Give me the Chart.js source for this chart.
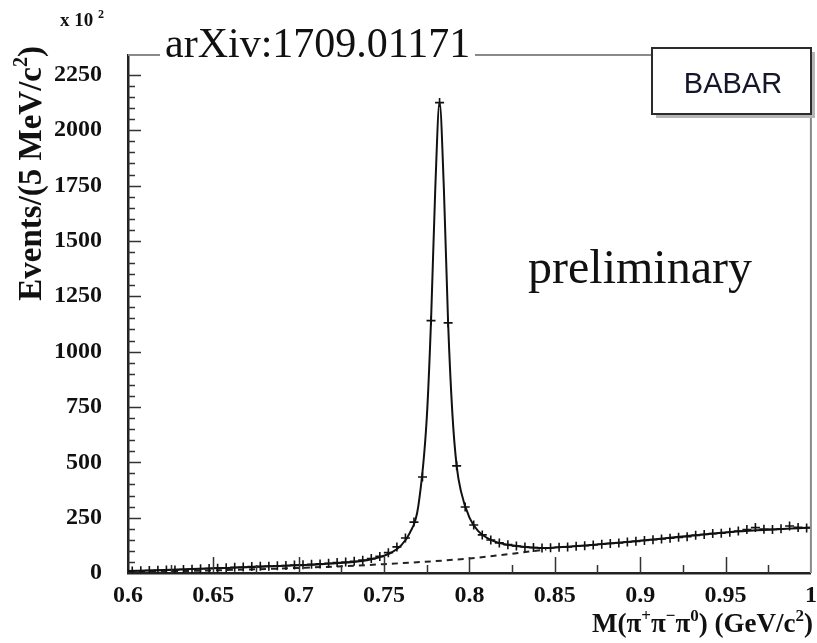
<!DOCTYPE html>
<html>
<head>
<meta charset="utf-8">
<script src="https://cdn.jsdelivr.net/npm/chart.js@4.4.1/dist/chart.umd.min.js"></script>
<style>
  body { margin: 0; background: #fff; }
  #wrap { width: 817px; height: 643px; }
</style>
</head>
<body>
<div id="wrap"><canvas id="myChart" width="817" height="643"></canvas></div>
<script>
// binned data, 5 MeV bins from 0.6 to 1.0 GeV
const binLow = 0.6;
const binWidth = 0.005;
const counts = [
  9, 10, 11, 12, 13, 14, 16, 17, 19, 20,
  22, 24, 26, 27, 29, 30, 31, 33, 34, 36,
  37, 39, 41, 44, 47, 50, 53, 58, 65, 75,
  92, 118, 158, 230, 434, 1140, 2125, 1130, 484, 298,
  217, 172, 149, 136, 128, 122, 118, 115, 113, 114,
  116, 118, 121, 123, 127, 130, 133, 136, 140, 143,
  147, 150, 154, 157, 161, 164, 170, 174, 178, 180,
  184, 190, 196, 205, 198, 197, 200, 212, 206, 203
];

// fitted curve (solid)
const fitX = [0.6, 0.65, 0.7, 0.72, 0.74, 0.75, 0.755, 0.76, 0.765, 0.77, 0.775, 0.7775, 0.78, 0.7825,
  0.785, 0.7875, 0.79, 0.7925, 0.795, 0.8, 0.805, 0.81, 0.815, 0.82, 0.83, 0.845, 0.85, 0.9, 0.95, 1.0];
const fitY = [9, 21, 35, 43, 58, 78, 95, 125, 180, 300, 700, 1140, 1740, 2125,
  1740, 1130, 720, 484, 370, 250, 190, 160, 142, 131, 120, 113, 115, 146, 183, 205];

// background (dashed)
const bkgX = [0.6, 0.65, 0.7, 0.75, 0.8, 0.845];
const bkgY = [4, 12, 23, 40, 66, 106];

const xTickLabels = ['0.6', '0.65', '0.7', '0.75', '0.8', '0.85', '0.9', '0.95', '1'];
const yTickLabels = ['0', '250', '500', '750', '1000', '1250', '1500', '1750', '2000', '2250'];

const dataPts = counts.map(function (c, i) { return { x: binLow + (i + 0.5) * binWidth, y: c }; });
const fitPts = fitX.map(function (x, i) { return { x: x, y: fitY[i] }; });
const bkgPts = bkgX.map(function (x, i) { return { x: x, y: bkgY[i] }; });

const serif = '"Liberation Serif", "Times New Roman", serif';

// draw text with superscript pieces
function richWidth(ctx, parts, size) {
  var w = 0;
  parts.forEach(function (p) {
    ctx.font = 'bold ' + (p.sup ? Math.round(size * 0.62) : size) + 'px ' + serif;
    w += ctx.measureText(p.t).width;
  });
  return w;
}
function drawRich(ctx, parts, x, y, size) {
  parts.forEach(function (p) {
    var s = p.sup ? Math.round(size * 0.62) : size;
    ctx.font = 'bold ' + s + 'px ' + serif;
    ctx.fillText(p.t, x, p.sup ? y - size * 0.42 : y);
    x += ctx.measureText(p.t).width;
  });
}

const decorPlugin = {
  id: 'decor',
  afterDraw: function (chart) {
    const ctx = chart.ctx;
    const a = chart.chartArea;
    const xs = chart.scales.x, ys = chart.scales.y;
    ctx.save();

    // frame top + right
    ctx.strokeStyle = '#8a8a8a';
    ctx.lineWidth = 2;
    ctx.beginPath();
    ctx.moveTo(a.left, a.top);
    ctx.lineTo(a.right, a.top);
    ctx.lineTo(a.right, a.bottom);
    ctx.stroke();

    // inside ticks
    ctx.strokeStyle = '#333';
    ctx.lineWidth = 1.5;
    ctx.beginPath();
    ys.ticks.forEach(function (t) {
      var v = Math.round(t.value);
      if (v % 50 !== 0 || v <= 0) return;
      var len = v % 250 === 0 ? 13 : 7;
      var py = Math.round(ys.getPixelForValue(v)) + 0.5;
      ctx.moveTo(a.left, py);
      ctx.lineTo(a.left + len, py);
    });
    xs.ticks.forEach(function (t) {
      var k = Math.round(t.value * 1000);
      if (k % 25 !== 0 || k <= 600 || k >= 1000) return;
      var len = k % 50 === 0 ? 16 : 8;
      var px = Math.round(xs.getPixelForValue(t.value)) + 0.5;
      ctx.moveTo(px, a.bottom);
      ctx.lineTo(px, a.bottom - len);
    });
    ctx.stroke();

    ctx.fillStyle = '#111';
    ctx.textBaseline = 'alphabetic';
    ctx.textAlign = 'left';

    // x 10^2
    drawRich(ctx, [{ t: 'x 10 ' }, { t: '2', sup: true }], 60, 26, 19);

    // y title
    var yParts = [{ t: 'Events/(5 MeV/c' }, { t: '2', sup: true }, { t: ')' }];
    var yw = richWidth(ctx, yParts, 33);
    ctx.save();
    ctx.translate(41, 46 + yw);
    ctx.rotate(-Math.PI / 2);
    drawRich(ctx, yParts, 0, 0, 33);
    ctx.restore();

    // x title
    var xParts = [{ t: 'M(\u03c0' }, { t: '+', sup: true }, { t: '\u03c0' }, { t: '\u2212', sup: true },
      { t: '\u03c0' }, { t: '0', sup: true }, { t: ') (GeV/c' }, { t: '2', sup: true }, { t: ')' }];
    var xw = richWidth(ctx, xParts, 27);
    drawRich(ctx, xParts, 813 - xw, 632, 27);

    // annotations (arXiv label sits on a white text box over the frame)
    ctx.fillStyle = '#fff';
    ctx.fillRect(160, 50, 315, 12);
    ctx.fillStyle = '#111';
    ctx.font = '42px ' + serif;
    ctx.fillText('arXiv:1709.01171', 165, 57);
    ctx.font = '48px ' + serif;
    ctx.fillText('preliminary', 528, 283);

    // BABAR box
    ctx.fillStyle = '#b5b5b5';
    ctx.fillRect(656, 52, 159, 66);
    ctx.fillStyle = '#fff';
    ctx.fillRect(652, 48, 159, 66);
    ctx.strokeStyle = '#2b2b2b';
    ctx.lineWidth = 2;
    ctx.strokeRect(652, 48, 159, 66);
    ctx.fillStyle = '#16162a';
    ctx.font = '29px "Liberation Sans", Arial, sans-serif';
    ctx.textAlign = 'center';
    ctx.fillText('BABAR', 733, 93);
    ctx.restore();
  }
};

const ctx = document.getElementById('myChart');
const myChart = new Chart(ctx, {
  type: 'scatter',
  data: {
    datasets: [{
      label: 'fit',
      data: fitPts,
      showLine: true,
      borderColor: '#111',
      borderWidth: 2,
      pointRadius: 0,
      cubicInterpolationMode: 'monotone',
      order: 2
    }, {
      label: 'background',
      data: bkgPts,
      showLine: true,
      borderColor: '#222',
      borderWidth: 2,
      borderDash: [6, 5],
      pointRadius: 0,
      cubicInterpolationMode: 'monotone',
      order: 3
    }, {
      label: 'data',
      data: dataPts,
      pointStyle: 'cross',
      pointRadius: 4.5,
      pointBorderWidth: 1.6,
      pointBorderColor: '#111',
      pointBackgroundColor: '#111',
      showLine: false,
      order: 1
    }]
  },
  options: {
    responsive: false,
    animation: false,
    devicePixelRatio: 1,
    layout: { padding: { top: 55, right: 5, left: 0, bottom: 0 } },
    scales: {
      x: {
        type: 'linear',
        min: 0.6,
        max: 1.0,
        afterFit: function (s) { s.height = 70; s.paddingLeft = 0; s.paddingRight = 0; },
        grid: { drawOnChartArea: false, drawTicks: false },
        border: { color: '#222', width: 2.5 },
        ticks: {
          stepSize: 0.025,
          autoSkip: false,
          maxRotation: 0,
          padding: 8,
          color: '#111',
          font: { family: serif, size: 24, weight: 'bold' },
          callback: function (v) {
            var k = Math.round(v * 1000);
            if (k % 50 !== 0) return '';
            return xTickLabels[(k - 600) / 50];
          }
        }
      },
      y: {
        min: 0,
        max: 2340,
        afterFit: function (s) { s.width = 128; s.paddingTop = 0; s.paddingBottom = 0; },
        grid: { drawOnChartArea: false, drawTicks: false },
        border: { color: '#222', width: 2.5 },
        ticks: {
          stepSize: 50,
          autoSkip: false,
          padding: 26,
          color: '#111',
          font: { family: serif, size: 24, weight: 'bold' },
          callback: function (v) {
            var k = Math.round(v);
            if (k % 250 !== 0) return '';
            return yTickLabels[k / 250];
          }
        }
      }
    },
    plugins: {
      legend: { display: false },
      tooltip: { enabled: false }
    }
  },
  plugins: [decorPlugin]
});
</script>
</body>
</html>
